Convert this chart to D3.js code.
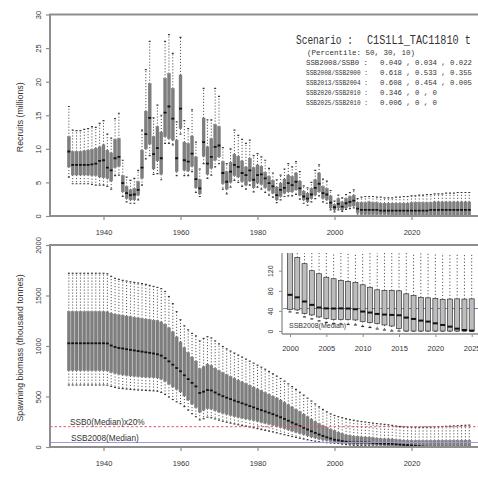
<!DOCTYPE html>
<html>
<head>
<meta charset="utf-8">
<script src="https://cdn.jsdelivr.net/npm/d3@7"></script>
<style>
  body { margin: 0; background: #fff; }
  svg { display: block; }
  text { font-family: "Liberation Sans", Arial, sans-serif; fill: #333; }
  .mono { font-family: "Liberation Mono", "DejaVu Sans Mono", monospace; }
</style>
</head>
<body>
<svg id="chart" width="478" height="477"></svg>
<script>
// ---- years simulated (1931-2035) ----
const years = d3.range(1931, 2036);

// ---- recruits (millions): whisker ends, quartiles and median per year ----
const recLow = [
  5.8, 4.8, 4.8, 4.8, 4.8, 4.8, 4.7, 4.6, 4.6, 4.6,
  4.4, 4.0, 6.0, 6.1, 2.9, 2.1, 1.9, 1.9, 2.4, 4.6,
  8.5, 9.0, 6.2, 6.3, 5.4, 10.8, 10.8, 10.6, 6.0, 12.2,
  6.0, 6.0, 6.6, 3.5, 2.9, 7.8, 5.6, 6.1, 7.3, 7.8,
  4.0, 3.3, 4.3, 5.3, 5.0, 4.4, 4.0, 4.6, 3.6, 4.3,
  4.0, 3.5, 3.1, 2.8, 2.0, 2.4, 2.9, 3.0, 3.0, 3.2,
  2.5, 1.9, 1.6, 2.1, 2.6, 3.0, 2.1, 1.9, 0.9, 0.6,
  0.9, 0.7, 1.0, 1.1, 1.2, 0.3, 0, 0, 0, 0,
  0, 0, 0, 0, 0, 0, 0, 0, 0, 0,
  0, 0, 0, 0, 0, 0, 0, 0, 0, 0,
  0, 0, 0, 0, 0
];
const recQ1 = [
  7.3, 6.1, 6.1, 6.1, 6.1, 6.1, 6.0, 6.0, 5.8, 5.7,
  5.6, 5.2, 7.2, 7.4, 3.6, 2.6, 2.4, 2.4, 3.1, 5.6,
  10.0, 10.7, 7.0, 8.2, 6.2, 11.8, 11.5, 11.3, 6.6, 13.0,
  6.8, 6.7, 7.4, 4.2, 3.3, 8.9, 6.2, 7.1, 8.3, 8.8,
  4.8, 4.0, 5.0, 6.0, 5.8, 5.1, 4.6, 5.2, 4.2, 4.9,
  4.7, 4.2, 3.8, 3.4, 2.4, 2.9, 3.4, 3.6, 3.6, 3.9,
  3.1, 2.4, 2.1, 2.6, 3.1, 3.6, 2.6, 2.4, 1.2, 0.9,
  1.2, 0.9, 1.2, 1.4, 1.5, 0.5, 0.2, 0.2, 0.2, 0.2,
  0.2, 0.2, 0.2, 0.2, 0.1, 0.1, 0.1, 0.1, 0.1, 0.1,
  0.1, 0.1, 0.1, 0.1, 0.1, 0.1, 0.1, 0.1, 0.1, 0.1,
  0.1, 0.1, 0.1, 0.1, 0.1
];
const recMed = [
  9.6, 7.6, 7.6, 7.6, 7.6, 7.6, 7.7, 7.8, 8.2, 8.3,
  7.2, 6.8, 8.6, 8.8, 4.9, 3.4, 3.1, 3.2, 3.9, 7.2,
  12.2, 14.6, 9.2, 10.1, 8.6, 15.4, 16.3, 14.5, 8.6, 16.0,
  8.3, 8.1, 9.3, 5.5, 4.1, 11.0, 7.8, 8.8, 10.3, 10.5,
  6.4, 5.1, 6.6, 7.6, 7.3, 6.4, 6.1, 6.8, 5.4, 6.1,
  6.2, 5.6, 4.9, 4.4, 3.1, 3.9, 4.2, 4.9, 4.6, 5.1,
  4.1, 2.9, 2.6, 3.2, 4.2, 4.8, 3.4, 3.2, 2.0, 1.3,
  1.8, 1.4, 1.9, 2.1, 2.3, 1.1, 0.9, 0.9, 0.9, 0.9,
  0.9, 0.8, 0.8, 0.8, 0.8, 0.8, 0.8, 0.8, 0.8, 0.8,
  0.8, 0.8, 0.8, 0.8, 0.9, 0.9, 0.9, 0.9, 0.9, 0.9,
  0.9, 0.9, 0.9, 0.9, 0.9
];
const recQ3 = [
  11.8, 9.6, 9.6, 9.6, 9.7, 9.8, 9.9, 10.1, 10.3, 10.6,
  9.8, 9.4, 11.4, 11.5, 6.0, 4.4, 3.9, 4.1, 5.1, 9.8,
  15.6, 19.7, 11.8, 13.3, 12.5, 20.5, 21.2, 19.0, 11.3, 21.0,
  11.0, 10.8, 11.9, 8.8, 5.4, 14.6, 10.3, 11.5, 13.6, 13.3,
  8.1, 6.6, 8.0, 9.2, 8.9, 8.2, 7.3, 8.6, 7.2, 7.6,
  7.4, 6.5, 5.9, 5.3, 4.3, 4.9, 5.5, 6.1, 5.9, 6.4,
  5.2, 3.7, 3.4, 4.1, 5.4, 6.4, 4.4, 4.1, 3.0, 1.7,
  2.6, 2.1, 2.6, 2.9, 3.1, 2.0, 2.0, 2.0, 2.1, 2.0,
  2.0, 1.9, 1.9, 1.9, 1.9, 1.9, 1.9, 1.9, 1.9, 2.0,
  2.0, 2.0, 2.0, 2.0, 2.0, 2.1, 2.1, 2.1, 2.1, 2.1,
  2.1, 2.1, 2.1, 2.1, 2.1
];
const recHigh = [
  16.3, 12.8, 12.7, 12.7, 12.9, 13.0, 13.3, 13.2, 13.8, 14.2,
  12.2, 11.6, 14.5, 15.3, 8.3, 5.8, 5.3, 5.6, 6.8, 12.8,
  21.8, 26.0, 14.6, 16.5, 15.0, 26.0, 27.0, 24.2, 14.0, 26.6,
  14.2, 13.0, 15.8, 11.0, 7.0, 19.0, 14.3, 14.3, 19.0, 17.8,
  10.2, 7.8, 10.0, 12.8, 12.0, 11.4, 10.8, 11.3, 9.0, 9.3,
  8.8, 8.3, 7.1, 6.4, 5.4, 6.1, 7.0, 7.8, 7.3, 8.1,
  6.6, 4.5, 4.2, 5.0, 6.8, 7.6, 5.5, 5.2, 3.8, 2.2,
  3.1, 2.7, 3.2, 3.5, 3.9, 2.6, 2.8, 2.9, 2.9, 2.9,
  2.8, 2.8, 2.7, 2.7, 2.7, 2.8, 2.8, 2.9, 2.9, 3.0,
  3.0, 3.1, 3.1, 3.2, 3.2, 3.3, 3.3, 3.3, 3.4, 3.4,
  3.4, 3.5, 3.5, 3.5, 3.5
];

// ---- spawning biomass (thousand tonnes) per year ----
const ssbLow = [
  614, 614, 614, 614, 614, 614, 614, 614, 614, 614,
  612, 600, 590, 582, 578, 574, 570, 567, 564, 562,
  560, 558, 556, 552, 540, 520, 495, 470, 448, 430,
  400, 365, 330, 300, 268, 280, 295, 290, 278, 266,
  255, 245, 236, 228, 220, 212, 205, 198, 190, 182,
  173, 165, 157, 149, 140, 131, 122, 113, 104, 95,
  87, 79, 71, 64, 58, 52, 47, 43, 40, 38,
  36, 28, 24, 20, 17, 15, 14, 13, 12, 9,
  7, 4, 2, 0, 0, 0, 0, 0, 0, 0,
  0, 0, 0, 0, 0, 0, 0, 0, 0, 0,
  0, 0, 0, 0, 0
];
const ssbQ1 = [
  756, 756, 756, 756, 756, 756, 756, 756, 756, 756,
  754, 740, 728, 720, 714, 708, 704, 700, 697, 694,
  692, 690, 688, 684, 672, 650, 622, 595, 570, 545,
  505, 465, 425, 390, 345, 365, 380, 375, 360, 346,
  333, 322, 312, 302, 294, 286, 278, 270, 262, 254,
  245, 236, 226, 216, 205, 194, 182, 170, 158, 146,
  134, 122, 110, 99, 89, 79, 70, 62, 55, 43,
  42, 35, 32, 28, 25, 23, 23, 23, 22, 19,
  17, 15, 12, 10, 5, 0, 0, 0, 0, 0,
  0, 0, 0, 0, 0, 0, 0, 0, 0, 0,
  0, 0, 0, 0, 0
];
const ssbMed = [
  1027, 1027, 1027, 1027, 1027, 1027, 1027, 1027, 1027, 1027,
  1025, 1005, 990, 980, 975, 968, 962, 956, 950, 944,
  938, 932, 926, 918, 905, 880, 848, 815, 782, 750,
  710, 672, 635, 600, 535, 548, 564, 560, 540, 520,
  503, 488, 474, 460, 447, 433, 420, 405, 392, 378,
  365, 352, 339, 325, 310, 295, 278, 260, 242, 225,
  208, 190, 173, 156, 140, 124, 110, 96, 84, 72,
  67, 58.7, 52, 46.7, 45, 44.7, 45, 44.7, 43.3, 38.7,
  36.7, 34, 32.7, 32, 31.3, 26.7, 24, 20.7, 18.7, 15.3,
  12, 8.7, 4.7, 2, 0.7, 0, 0, 0, 0, 0,
  0, 0, 0, 0, 0
];
const ssbQ3 = [
  1340, 1340, 1340, 1340, 1340, 1340, 1340, 1340, 1340, 1340,
  1338, 1325, 1315, 1308, 1302, 1296, 1290, 1284, 1278, 1272,
  1266, 1260, 1255, 1250, 1238, 1215, 1180, 1140, 1090, 1040,
  985, 935, 890, 850, 775, 795, 820, 808, 780, 755,
  735, 715, 697, 680, 662, 645, 628, 610, 592, 575,
  558, 540, 522, 503, 485, 465, 443, 420, 397, 373,
  350, 325, 300, 276, 253, 231, 210, 192, 175, 162,
  146, 134, 120, 114, 107, 104, 100.7, 98.7, 96.7, 92,
  87, 82, 80.7, 80.7, 80, 74, 70.7, 67, 66, 64.7,
  63, 63.5, 64, 63.5, 64, 64, 64.5, 65, 65, 65.5,
  65.5, 66, 66, 66.5, 66.5
];
const ssbHigh = [
  1720, 1720, 1720, 1720, 1720, 1720, 1720, 1720, 1720, 1720,
  1715, 1690, 1670, 1660, 1650, 1643, 1636, 1630, 1624, 1618,
  1610, 1600, 1590, 1580, 1568, 1540, 1490, 1420, 1340, 1260,
  1200, 1160, 1125, 1100, 1050, 1075, 1092, 1080, 1050, 1022,
  995, 972, 950, 930, 910, 890, 870, 850, 830, 810,
  790, 770, 748, 725, 702, 678, 652, 625, 598, 570,
  542, 513, 484, 455, 426, 398, 372, 348, 328, 312,
  300, 290, 280, 272, 265, 258, 252, 247, 242, 237,
  232, 228, 224, 220, 214, 208, 203, 200, 198, 197,
  196, 196, 196, 197, 198, 199, 201, 203, 205, 207,
  209, 211, 213, 215, 217
];

// ---- reference levels (thousand tonnes) ----
const ssbLimit = 201;        // SSB0 median x 20%
const ssb2008Median = 44.7;  // SSB2008 median

// ---- tick labels ----
const yearTicks = [1940, 1960, 1980, 2000, 2020];
const recTicks = [0, 5, 10, 15, 20, 25, 30];
const ssbTicks = [0, 500, 1000, 1500, 2000];
const insetYears = [2000, 2025];
const insetYearTicks = [2000, 2005, 2010, 2015, 2020, 2025];
const insetSsbTicks = [0, 40, 80, 120];

// ---- scenario summary ----
const scenarioName = "C1S1L1_TAC11810 t";
const percentileNote = "(Percentile: 50, 30, 10)";
const ratioNames = ["SSB2008/SSB0", "SSB2008/SSB2000", "SSB2013/SSB2004", "SSB2020/SSB2010", "SSB2025/SSB2010"];
const ratioValues = ["0.049 , 0.034 , 0.022", "0.618 , 0.533 , 0.355", "0.608 , 0.454 , 0.005", "0.346 , 0 , 0", "0.006 , 0 , 0"];

// ---------------------------------------------------------------
const svg = d3.select("#chart");
const frameColor = "#8e8e8e";

const x = d3.scaleLinear().domain([1940, 2020]).range([103.5, 411.5]);
const yRec = d3.scaleLinear().domain([0, 30]).range([216, 14.5]);
const ySsb = d3.scaleLinear().domain([0, 2000]).range([447, 245]);
const xIn = d3.scaleLinear().domain([2000, 2025]).range([290, 471.7]);
const yIn = d3.scaleLinear().domain([0, 120]).range([331, 270.7]);

function rowsOf(lo, q1, med, q3, hi) {
  return years.map((yr, i) => ({ yr, lo: lo[i], q1: q1[i], med: med[i], q3: q3[i], hi: hi[i] }));
}
const recRows = rowsOf(recLow, recQ1, recMed, recQ3, recHigh);
const ssbRows = rowsOf(ssbLow, ssbQ1, ssbMed, ssbQ3, ssbHigh);

// box-and-whisker marks for one series
function drawBoxes(layer, rows, xs, ys, w, look) {
  const g = layer.selectAll(null).data(rows).join("g");
  const cx = d => xs(d.yr);
  g.append("line").attr("x1", cx).attr("x2", cx)
    .attr("y1", d => ys(d.q3)).attr("y2", d => ys(d.hi))
    .attr("stroke", look.whisker).attr("stroke-width", look.ww)
    .attr("stroke-dasharray", look.dash);
  g.append("line").attr("x1", cx).attr("x2", cx)
    .attr("y1", d => ys(d.q1)).attr("y2", d => ys(d.lo))
    .attr("stroke", look.whisker).attr("stroke-width", look.ww)
    .attr("stroke-dasharray", look.dash);
  g.append("line").attr("x1", d => cx(d) - look.staple / 2).attr("x2", d => cx(d) + look.staple / 2)
    .attr("y1", d => ys(d.hi)).attr("y2", d => ys(d.hi))
    .attr("stroke", look.whisker).attr("stroke-width", 1.2);
  g.append("line").attr("x1", d => cx(d) - look.staple / 2).attr("x2", d => cx(d) + look.staple / 2)
    .attr("y1", d => ys(d.lo)).attr("y2", d => ys(d.lo))
    .attr("stroke", look.whisker).attr("stroke-width", 1.2);
  g.append("rect").attr("x", d => cx(d) - w / 2).attr("width", w)
    .attr("y", d => ys(d.q3)).attr("height", d => Math.max(0.8, ys(d.q1) - ys(d.q3)))
    .attr("fill", look.fill).attr("stroke", look.stroke).attr("stroke-width", look.sw);
  g.append("line").attr("x1", d => cx(d) - w / 2).attr("x2", d => cx(d) + w / 2)
    .attr("y1", d => ys(d.med)).attr("y2", d => ys(d.med))
    .attr("stroke", "#111").attr("stroke-width", look.mw);
}

const defs = svg.append("defs");
defs.append("clipPath").attr("id", "clipTop").append("rect")
  .attr("x", 51).attr("y", 15.5).attr("width", 440).attr("height", 199.5);
defs.append("clipPath").attr("id", "clipBot").append("rect")
  .attr("x", 51).attr("y", 246).attr("width", 440).attr("height", 200);
defs.append("clipPath").attr("id", "clipIn").append("rect")
  .attr("x", 283).attr("y", 253).attr("width", 200).attr("height", 80);

const mainLook = { fill: "#7e7e7e", stroke: "#6e6e6e", sw: 0.4, whisker: "#3a3a3a", ww: 0.9, dash: "1.1,1.9", staple: 2, mw: 1.8 };

// ---------- recruits panel ----------
const recPanel = svg.append("g");
drawBoxes(recPanel.append("g").attr("clip-path", "url(#clipTop)"), recRows, x, yRec, 2.9, mainLook);

// ---------- spawning biomass panel ----------
const ssbPanel = svg.append("g");
const ssbMarks = ssbPanel.append("g").attr("clip-path", "url(#clipBot)");
drawBoxes(ssbMarks, ssbRows, x, ySsb, 2.9, mainLook);
ssbMarks.append("line").attr("x1", 50).attr("x2", 490)
  .attr("y1", ySsb(ssbLimit)).attr("y2", ySsb(ssbLimit))
  .attr("stroke", "#dd5a66").attr("stroke-width", 1).attr("stroke-dasharray", "2.5,2");
ssbMarks.append("line").attr("x1", 50).attr("x2", 490)
  .attr("y1", ySsb(ssb2008Median)).attr("y2", ySsb(ssb2008Median))
  .attr("stroke", "#9c9cdc").attr("stroke-width", 1);
ssbPanel.append("text").attr("x", 70).attr("y", ySsb(ssbLimit) - 1.8)
  .attr("font-size", 8.3).attr("fill", "#555").text("SSB0(Median)x20%");
ssbPanel.append("text").attr("x", 71).attr("y", ySsb(ssb2008Median) - 1)
  .attr("font-size", 8.3).attr("fill", "#555").text("SSB2008(Median)");

// ---------- frames and axes of the two main panels ----------
function frame(y0, y1) {
  svg.append("rect").attr("x", 50).attr("y", y0).attr("width", 480).attr("height", y1 - y0)
    .attr("fill", "none").attr("stroke", frameColor).attr("stroke-width", 2);
}
frame(yRec(30), yRec(0));
frame(ySsb(2000), ySsb(0));

function leftAxis(ys, ticks, gap) {
  const g = svg.append("g").attr("transform", "translate(50,0)")
    .call(d3.axisLeft(ys).tickValues(ticks).tickSize(4).tickFormat(d3.format("d")));
  g.select(".domain").remove();
  g.selectAll(".tick line").attr("stroke", frameColor).attr("stroke-width", 1.2);
  g.selectAll(".tick text").attr("transform", "rotate(-90)")
    .attr("x", 0).attr("y", -gap).attr("dy", 0).attr("text-anchor", "middle")
    .attr("font-size", 7.5).attr("fill", "#555").style("font-family", "Liberation Sans, Arial, sans-serif");
}
function bottomAxis(xs, ticks, y0, gap, size) {
  const g = svg.append("g").attr("transform", `translate(0,${y0})`)
    .call(d3.axisBottom(xs).tickValues(ticks).tickSize(4).tickFormat(d3.format("d")));
  g.select(".domain").remove();
  g.selectAll(".tick line").attr("stroke", frameColor).attr("stroke-width", 1.2);
  g.selectAll(".tick text").attr("y", gap).attr("dy", 0)
    .attr("font-size", size).attr("fill", "#555").style("font-family", "Liberation Sans, Arial, sans-serif");
}
leftAxis(yRec, recTicks, 9.5);
leftAxis(ySsb, ssbTicks, 9.5);
bottomAxis(x, yearTicks, yRec(0), 18.5, 7.5);
bottomAxis(x, yearTicks, ySsb(0), 19, 7.5);

svg.append("text").attr("transform", `translate(23,${(yRec(0) + yRec(30)) / 2 + 2}) rotate(-90)`)
  .attr("text-anchor", "middle").attr("font-size", 8.8).attr("fill", "#555").text("Recruits (millions)");
svg.append("text").attr("transform", `translate(23,${(ySsb(0) + ySsb(2000)) / 2 + 2}) rotate(-90)`)
  .attr("text-anchor", "middle").attr("font-size", 8.8).attr("fill", "#555").text("Spawning biomass (thousand tonnes)");

// ---------- scenario summary ----------
// monospace text squeezed horizontally to a given width
function narrowText(parent, x0, y0, str, size, width) {
  const t = parent.append("g").attr("transform", `translate(${x0},${y0})`)
    .append("text").attr("class", "mono").attr("font-size", size).attr("fill", "#444").text(str);
  const natural = t.node().getComputedTextLength();
  t.attr("transform", `scale(${width / natural},1)`);
  return t;
}
const note = svg.append("g");
narrowText(note, 296, 43.5, "Scenario :", 12, 57);
narrowText(note, 367, 43.5, scenarioName, 12, 104);
note.append("text").attr("class", "mono").attr("x", 307).attr("y", 55)
  .attr("font-size", 7.5).attr("fill", "#444").text(percentileNote);
ratioNames.forEach((name, i) => {
  const yy = 65 + i * 10;
  narrowText(note, 306, yy, name.padEnd(16, " ") + ":", 7.3, 62);
  note.append("text").attr("class", "mono").attr("x", 380).attr("y", yy)
    .attr("font-size", 7.3).attr("fill", "#444").text(ratioValues[i]);
});

// ---------- inset: 2000-2025 close-up of spawning biomass ----------
const inset = svg.append("g");
inset.append("rect").attr("x", 258).attr("y", 247).attr("width", 220).attr("height", 110).attr("fill", "#fff");
const insetRows = ssbRows.filter(d => d.yr >= insetYears[0] && d.yr <= insetYears[1]);
const insetMarks = inset.append("g").attr("clip-path", "url(#clipIn)");
insetMarks.append("line").attr("x1", 282).attr("x2", 490)
  .attr("y1", yIn(ssb2008Median)).attr("y2", yIn(ssb2008Median))
  .attr("stroke", "#7c7cc6").attr("stroke-width", 1);
drawBoxes(insetMarks, insetRows, xIn, yIn, 5,
  { fill: "#bdbdbd", stroke: "#333", sw: 0.7, whisker: "#333", ww: 0.9, dash: "1.1,2.2", staple: 3, mw: 2 });
inset.append("text").attr("x", 289).attr("y", 327.5).attr("font-size", 7)
  .attr("fill", "#555").text("SSB2008(Median)");

inset.append("line").attr("x1", 282).attr("x2", 282).attr("y1", 253).attr("y2", 334)
  .attr("stroke", frameColor).attr("stroke-width", 1.3);
inset.append("line").attr("x1", 282).attr("x2", 478).attr("y1", 334).attr("y2", 334)
  .attr("stroke", frameColor).attr("stroke-width", 1.3);
{
  const g = inset.append("g").attr("transform", "translate(282,0)")
    .call(d3.axisLeft(yIn).tickValues(insetSsbTicks).tickSize(3).tickFormat(d3.format("d")));
  g.select(".domain").remove();
  g.selectAll(".tick line").attr("stroke", frameColor);
  g.selectAll(".tick text").attr("transform", "rotate(-90)").attr("x", 0).attr("y", -9).attr("dy", 0)
    .attr("text-anchor", "middle").attr("font-size", 7).attr("fill", "#555");
}
{
  const g = inset.append("g").attr("transform", "translate(0,334)")
    .call(d3.axisBottom(xIn).tickValues(insetYearTicks).tickSize(3).tickFormat(d3.format("d")));
  g.select(".domain").remove();
  g.selectAll(".tick line").attr("stroke", frameColor);
  g.selectAll(".tick text").attr("y", 16.5).attr("dy", 0).attr("font-size", 7.5).attr("fill", "#555");
}
</script>
</body>
</html>
